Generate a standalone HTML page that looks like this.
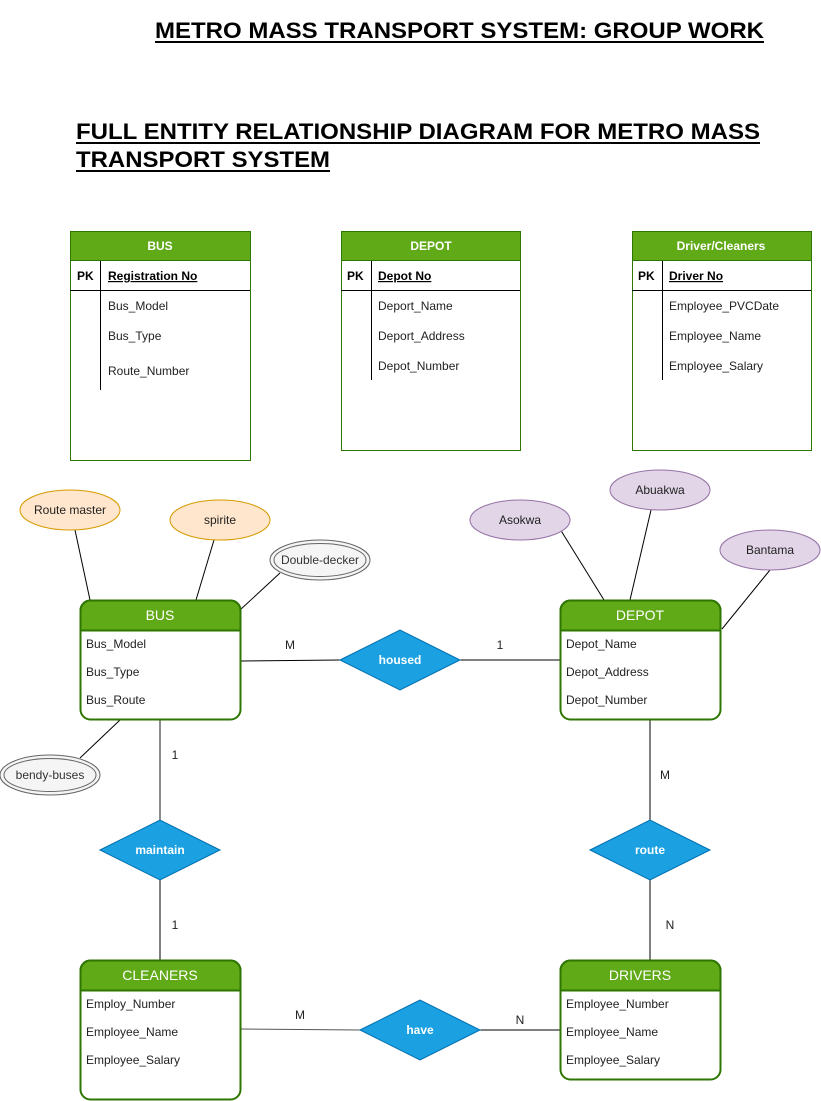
<!DOCTYPE html>
<html><head><meta charset="utf-8"><style>
html,body{margin:0;padding:0;background:#fff}
svg{display:block}
text{font-family:"Liberation Sans",Arial,sans-serif}
</style></head><body>
<svg width="821" height="1101" viewBox="0 0 821 1101" xmlns="http://www.w3.org/2000/svg">
<g font-weight="bold" font-size="22" fill="#000">
<text x="155" y="38" textLength="609" lengthAdjust="spacingAndGlyphs">METRO MASS TRANSPORT SYSTEM: GROUP WORK</text>
<rect x="155" y="41" width="609" height="2"/>
<text x="76" y="139" textLength="684" lengthAdjust="spacingAndGlyphs">FULL ENTITY RELATIONSHIP DIAGRAM FOR METRO MASS</text>
<rect x="76" y="142" width="684" height="2"/>
<text x="76" y="167" textLength="254" lengthAdjust="spacingAndGlyphs">TRANSPORT SYSTEM</text>
<rect x="76" y="170" width="254" height="2"/>
</g>

<!-- Tables -->
<g font-size="12">
<rect x="70.5" y="231.5" width="180" height="229" fill="#fff" stroke="#2d7600"/>
<rect x="70.5" y="231.5" width="180" height="29" fill="#60a917" stroke="#2d7600"/>
<text x="160" y="250" text-anchor="middle" fill="#fff" font-weight="bold">BUS</text>
<line x1="70" y1="290.5" x2="250" y2="290.5" stroke="#000"/>
<line x1="100.5" y1="261" x2="100.5" y2="390" stroke="#000"/>
<text x="77" y="280" font-weight="bold">PK</text>
<text x="108" y="280" font-weight="bold" text-decoration="underline">Registration No</text>
<text x="108" y="310" fill="#222">Bus_Model</text>
<text x="108" y="340" fill="#222">Bus_Type</text>
<text x="108" y="375" fill="#222">Route_Number</text>

<rect x="341.5" y="231.5" width="179" height="219" fill="#fff" stroke="#2d7600"/>
<rect x="341.5" y="231.5" width="179" height="29" fill="#60a917" stroke="#2d7600"/>
<text x="431" y="250" text-anchor="middle" fill="#fff" font-weight="bold">DEPOT</text>
<line x1="341" y1="290.5" x2="520" y2="290.5" stroke="#000"/>
<line x1="371.5" y1="261" x2="371.5" y2="380" stroke="#000"/>
<text x="347" y="280" font-weight="bold">PK</text>
<text x="378" y="280" font-weight="bold" text-decoration="underline">Depot No</text>
<text x="378" y="310" fill="#222">Deport_Name</text>
<text x="378" y="340" fill="#222">Deport_Address</text>
<text x="378" y="370" fill="#222">Depot_Number</text>

<rect x="632.5" y="231.5" width="179" height="219" fill="#fff" stroke="#2d7600"/>
<rect x="632.5" y="231.5" width="179" height="29" fill="#60a917" stroke="#2d7600"/>
<text x="721" y="250" text-anchor="middle" fill="#fff" font-weight="bold">Driver/Cleaners</text>
<line x1="632" y1="290.5" x2="811" y2="290.5" stroke="#000"/>
<line x1="662.5" y1="261" x2="662.5" y2="380" stroke="#000"/>
<text x="638" y="280" font-weight="bold">PK</text>
<text x="669" y="280" font-weight="bold" text-decoration="underline">Driver No</text>
<text x="669" y="310" fill="#222">Employee_PVCDate</text>
<text x="669" y="340" fill="#222">Employee_Name</text>
<text x="669" y="370" fill="#222">Employee_Salary</text>
</g>

<!-- connectors -->
<g stroke="#000" stroke-width="1" fill="none">
<line x1="75" y1="530" x2="90" y2="600"/>
<line x1="214" y1="540" x2="196" y2="600"/>
<line x1="280" y1="573" x2="240" y2="610"/>
<line x1="80" y1="758" x2="120" y2="720"/>
<line x1="560" y1="529" x2="604" y2="600"/>
<line x1="651" y1="510" x2="630" y2="600"/>
<line x1="770" y1="570" x2="722" y2="629"/>
<line x1="240" y1="661" x2="340" y2="660"/>
<line x1="460" y1="660" x2="560" y2="660"/>
<line x1="160" y1="720" x2="160" y2="820" stroke="#666" stroke-width="1.5"/>
<line x1="160" y1="880" x2="160" y2="960"/>
<line x1="650" y1="720" x2="650" y2="820"/>
<line x1="650" y1="880" x2="650" y2="960"/>
<line x1="240" y1="1029" x2="360" y2="1030" stroke="#555"/>
<line x1="480" y1="1030" x2="560" y2="1030"/>
</g>

<!-- ellipses -->
<g font-size="12" text-anchor="middle">
<ellipse cx="70" cy="510" rx="50" ry="20" fill="#ffe6cc" stroke="#d79b00"/>
<text x="70" y="514" fill="#222">Route master</text>
<ellipse cx="220" cy="520" rx="50" ry="20" fill="#ffe6cc" stroke="#d79b00"/>
<text x="220" y="524" fill="#222">spirite</text>
<ellipse cx="320" cy="560" rx="50" ry="20" fill="#f5f5f5" stroke="#666"/>
<ellipse cx="320" cy="560" rx="46" ry="16.5" fill="none" stroke="#666"/>
<text x="320" y="564" fill="#333">Double-decker</text>
<ellipse cx="50" cy="775" rx="50" ry="20" fill="#f5f5f5" stroke="#666"/>
<ellipse cx="50" cy="775" rx="46" ry="16.5" fill="none" stroke="#666"/>
<text x="50" y="779" fill="#333">bendy-buses</text>
<ellipse cx="520" cy="520" rx="50" ry="20" fill="#e1d5e7" stroke="#9673a6"/>
<text x="520" y="524" fill="#222">Asokwa</text>
<ellipse cx="660" cy="490" rx="50" ry="20" fill="#e1d5e7" stroke="#9673a6"/>
<text x="660" y="494" fill="#222">Abuakwa</text>
<ellipse cx="770" cy="550" rx="50" ry="20" fill="#e1d5e7" stroke="#9673a6"/>
<text x="770" y="554" fill="#222">Bantama</text>
</g>

<!-- entities -->
<g font-size="12">
<g>
<rect x="80.5" y="600.5" width="160" height="119" rx="10" fill="#fff" stroke="#2d7600" stroke-width="2"/>
<path d="M80.5 630.5 V610.5 a10 10 0 0 1 10 -10 H230.5 a10 10 0 0 1 10 10 V630.5 Z" fill="#60a917" stroke="#2d7600" stroke-width="2"/>
<text x="160" y="620" text-anchor="middle" fill="#fff" font-size="14">BUS</text>
<text x="86" y="648" fill="#222">Bus_Model</text>
<text x="86" y="676" fill="#222">Bus_Type</text>
<text x="86" y="704" fill="#222">Bus_Route</text>
</g>
<g>
<rect x="560.5" y="600.5" width="160" height="119" rx="10" fill="#fff" stroke="#2d7600" stroke-width="2"/>
<path d="M560.5 630.5 V610.5 a10 10 0 0 1 10 -10 H710.5 a10 10 0 0 1 10 10 V630.5 Z" fill="#60a917" stroke="#2d7600" stroke-width="2"/>
<text x="640" y="620" text-anchor="middle" fill="#fff" font-size="14">DEPOT</text>
<text x="566" y="648" fill="#222">Depot_Name</text>
<text x="566" y="676" fill="#222">Depot_Address</text>
<text x="566" y="704" fill="#222">Depot_Number</text>
</g>
<g>
<rect x="80.5" y="960.5" width="160" height="139" rx="10" fill="#fff" stroke="#2d7600" stroke-width="2"/>
<path d="M80.5 990.5 V970.5 a10 10 0 0 1 10 -10 H230.5 a10 10 0 0 1 10 10 V990.5 Z" fill="#60a917" stroke="#2d7600" stroke-width="2"/>
<text x="160" y="980" text-anchor="middle" fill="#fff" font-size="14">CLEANERS</text>
<text x="86" y="1008" fill="#222">Employ_Number</text>
<text x="86" y="1036" fill="#222">Employee_Name</text>
<text x="86" y="1064" fill="#222">Employee_Salary</text>
</g>
<g>
<rect x="560.5" y="960.5" width="160" height="119" rx="10" fill="#fff" stroke="#2d7600" stroke-width="2"/>
<path d="M560.5 990.5 V970.5 a10 10 0 0 1 10 -10 H710.5 a10 10 0 0 1 10 10 V990.5 Z" fill="#60a917" stroke="#2d7600" stroke-width="2"/>
<text x="640" y="980" text-anchor="middle" fill="#fff" font-size="14">DRIVERS</text>
<text x="566" y="1008" fill="#222">Employee_Number</text>
<text x="566" y="1036" fill="#222">Employee_Name</text>
<text x="566" y="1064" fill="#222">Employee_Salary</text>
</g>
</g>

<!-- diamonds -->
<g font-size="12" font-weight="bold" text-anchor="middle">
<polygon points="340,660 400,630 460,660 400,690" fill="#1ba1e2" stroke="#006eaf"/>
<text x="400" y="664" fill="#fff">housed</text>
<polygon points="100,850 160,820 220,850 160,880" fill="#1ba1e2" stroke="#006eaf"/>
<text x="160" y="854" fill="#fff">maintain</text>
<polygon points="590,850 650,820 710,850 650,880" fill="#1ba1e2" stroke="#006eaf"/>
<text x="650" y="854" fill="#fff">route</text>
<polygon points="360,1030 420,1000 480,1030 420,1060" fill="#1ba1e2" stroke="#006eaf"/>
<text x="420" y="1034" fill="#fff">have</text>
</g>

<!-- cardinalities -->
<g font-size="12" fill="#222" text-anchor="middle">
<text x="290" y="649">M</text>
<text x="500" y="649">1</text>
<text x="175" y="759">1</text>
<text x="175" y="929">1</text>
<text x="665" y="779">M</text>
<text x="670" y="929">N</text>
<text x="300" y="1019">M</text>
<text x="520" y="1024">N</text>
</g>
</svg>
</body></html>
